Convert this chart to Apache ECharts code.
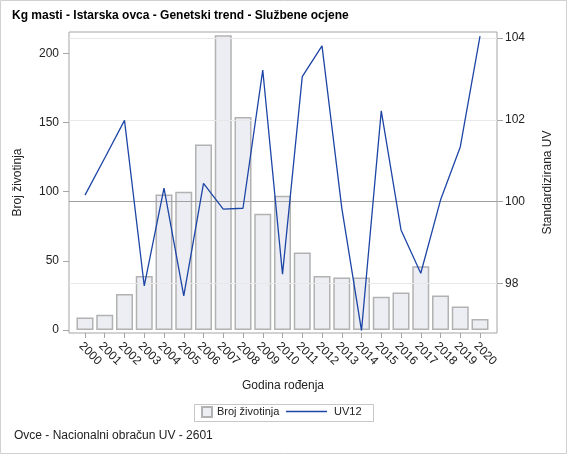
<!DOCTYPE html>
<html>
<head>
<meta charset="utf-8">
<script src="https://cdn.jsdelivr.net/npm/echarts@6/dist/echarts.min.js"></script>
<style>
  html, body { margin: 0; padding: 0; background: #fff; }
  #chart { width: 567px; height: 454px; }
</style>
</head>
<body>
<div id="chart"></div>
<script>
/* ------------------------------------------------------------------ */
/*            Kg masti - Istarska ovca - Genetski trend               */
/* ------------------------------------------------------------------ */
var years = ['2000', '2001', '2002', '2003', '2004', '2005', '2006', '2007', '2008', '2009', '2010',
  '2011', '2012', '2013', '2014', '2015', '2016', '2017', '2018', '2019', '2020'];
var brojZivotinja = [9, 11, 26, 39, 98, 100, 134, 213, 154, 84, 97, 56, 39, 38, 38, 24, 27, 46, 25, 17, 8];
var uv12 = [100.16, 101.07, 101.99, 97.94, 100.33, 97.70, 100.45, 99.82, 99.84, 103.22, 98.23,
  103.06, 103.81, 99.85, 96.85, 102.22, 99.31, 98.25, 100.04, 101.34, 104.05];
var leftTicks = [0, 50, 100, 150, 200];
var rightTicks = [98, 100, 102, 104];
var refValue = 100;

var font = "'Liberation Sans', Arial, sans-serif";
var textColor = '#222';
var frameColor = '#a5a5a5';
var lineColor = '#1d45a6';

var chartDom = document.getElementById('chart');
var myChart = echarts.init(chartDom);

var positions = years.map(function (y, i) { return i; });
var barData = brojZivotinja.map(function (v, i) { return [positions[i], v]; });
var lineData = uv12.map(function (v, i) { return [positions[i], v]; });

var gridLines = rightTicks.filter(function (t) { return t !== refValue; }).map(function (t) {
  return { yAxis: t, lineStyle: { color: '#e8e8e8', width: 1, type: 'solid' } };
});
gridLines.push({ yAxis: refValue, lineStyle: { color: '#a0a0a0', width: 1, type: 'solid' } });

var option = {
  animation: false,
  textStyle: { fontFamily: font },
  title: [{
    text: 'Kg masti - Istarska ovca - Genetski trend - Službene ocjene',
    left: 12,
    top: 10,
    padding: 0,
    textStyle: { fontSize: 12, fontWeight: 'bold', color: '#000', fontFamily: font }
  }, {
    text: 'Ovce - Nacionalni obračun UV - 2601',
    left: 14,
    top: 430,
    padding: 0,
    textStyle: { fontSize: 12, fontWeight: 'normal', color: textColor, fontFamily: font }
  }],
  legend: [{
    data: ['Broj životinja'],
    left: 201,
    top: 406,
    padding: 0,
    icon: 'rect',
    itemWidth: 10,
    itemHeight: 10,
    textStyle: { fontSize: 11, color: textColor, fontFamily: font }
  }, {
    data: ['UV12'],
    left: 286,
    top: 406,
    padding: 0,
    icon: 'rect',
    itemWidth: 41,
    itemHeight: 1.5,
    textStyle: { fontSize: 11, color: textColor, fontFamily: font, padding: [0, 0, 0, 2] }
  }],
  graphic: [{
    type: 'rect',
    shape: { x: 0.5, y: 0.5, width: 566, height: 453 },
    style: { fill: 'none', stroke: '#d0d0d0', lineWidth: 1 },
    silent: true
  }, {
    type: 'rect',
    shape: { x: 194.5, y: 404.5, width: 179, height: 17 },
    style: { fill: 'none', stroke: '#c8c8c8', lineWidth: 1 },
    silent: true
  }],
  grid: {
    left: 69,
    right: 70,
    top: 32,
    bottom: 121,
    show: true,
    borderColor: frameColor,
    borderWidth: 1,
    outerBoundsMode: 'none',
    containLabel: false
  },
  xAxis: {
    type: 'value',
    min: -0.81,
    max: 20.86,
    name: 'Godina rođenja',
    nameLocation: 'middle',
    nameGap: 47,
    nameTextStyle: { fontSize: 12, color: textColor, fontFamily: font },
    axisLine: { show: false, onZero: false },
    splitLine: { show: false },
    axisTick: {
      show: true,
      customValues: positions,
      length: 5,
      lineStyle: { color: frameColor }
    },
    axisLabel: {
      customValues: positions,
      rotate: -45,
      margin: 7,
      verticalAlign: 'top',
      fontSize: 12,
      color: textColor,
      fontFamily: font,
      formatter: function (v) { return years[Math.round(v)]; }
    }
  },
  yAxis: [{
    type: 'value',
    position: 'left',
    min: -2.2,
    max: 215.4,
    name: 'Broj životinja',
    nameLocation: 'middle',
    nameRotate: 90,
    nameGap: 45,
    nameTextStyle: { fontSize: 12, color: textColor, fontFamily: font },
    axisLine: { show: false, onZero: false },
    splitLine: { show: false },
    axisTick: {
      show: true,
      customValues: leftTicks,
      length: 6,
      lineStyle: { color: frameColor }
    },
    axisLabel: {
      customValues: leftTicks,
      margin: 10,
      fontSize: 12,
      color: textColor,
      fontFamily: font
    }
  }, {
    type: 'value',
    position: 'right',
    min: 96.79,
    max: 104.15,
    name: 'Standardizirana UV',
    nameLocation: 'middle',
    nameRotate: 90,
    nameGap: 45,
    nameTextStyle: { fontSize: 12, color: textColor, fontFamily: font },
    axisLine: { show: false, onZero: false },
    splitLine: { show: false },
    axisTick: {
      show: true,
      customValues: rightTicks,
      length: 6,
      lineStyle: { color: frameColor }
    },
    axisLabel: {
      customValues: rightTicks,
      margin: 8,
      fontSize: 12,
      color: textColor,
      fontFamily: font
    }
  }],
  series: [{
    name: 'Broj životinja',
    type: 'bar',
    yAxisIndex: 0,
    barWidth: 17,
    data: barData,
    itemStyle: {
      color: '#eceef3',
      borderColor: '#b2b2b2',
      borderWidth: 1.5
    },
    emphasis: { disabled: true }
  }, {
    name: 'UV12',
    type: 'line',
    yAxisIndex: 1,
    symbol: 'none',
    data: lineData,
    z: 5,
    lineStyle: { color: lineColor, width: 1.3 },
    itemStyle: { color: lineColor },
    emphasis: { disabled: true },
    markLine: {
      silent: true,
      symbol: 'none',
      label: { show: false },
      data: gridLines
    }
  }]
};

option && myChart.setOption(option);
</script>
</body>
</html>
